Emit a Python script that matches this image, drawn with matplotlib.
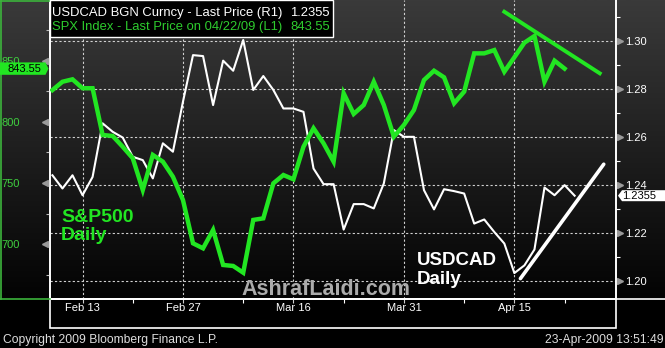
import numpy as np
import pandas as pd
import matplotlib
matplotlib.use("Agg")
import matplotlib.pyplot as plt
from matplotlib.colors import LinearSegmentedColormap
from matplotlib.patches import Rectangle, Polygon
from matplotlib.lines import Line2D
from matplotlib import transforms

plt.rcParams['font.family'] = ['Liberation Sans', 'DejaVu Sans']

# weekday axis (the terminal carries holidays forward)
dates = pd.bdate_range("2009-02-10", "2009-04-23")

usdcad = [1.2440, 1.2385, 1.2440, 1.2357, 1.2433, 1.2656, 1.2621, 1.2597, 1.2517, 1.2503,
          1.2427, 1.2573, 1.2538, 1.2746, 1.2940, 1.2936, 1.2732, 1.2917, 1.2875, 1.3003,
          1.2795, 1.2853, 1.2795, 1.2718, 1.2718, 1.2704, 1.2468, 1.2403, 1.2403, 1.2214,
          1.2320, 1.2320, 1.2302, 1.2406, 1.2628, 1.2600, 1.2600, 1.2378, 1.2298, 1.2382,
          1.2374, 1.2364, 1.2239, 1.2256, 1.2204, 1.2156, 1.2033, 1.2065, 1.2131, 1.2389,
          1.2357, 1.2399, 1.2355]

spx = [826.0, 832.8, 834.8, 827.5, 827.5, 789.3, 788.5, 779.7, 770.3, 744.4,
       773.0, 767.5, 755.2, 736.2, 700.8, 696.7, 711.7, 683.1, 682.3, 676.8,
       719.9, 721.2, 749.8, 756.6, 753.1, 779.7, 794.8, 782.5, 767.5, 823.4,
       806.5, 813.8, 832.8, 813.8, 787.9, 797.5, 809.7, 834.2, 841.8, 836.4,
       815.2, 824.7, 856.0, 856.0, 858.7, 841.0, 852.8, 864.7, 870.2, 832.8,
       850.0, 843.55]

tick_dates = ["2009-02-13", "2009-02-27", "2009-03-16", "2009-03-31", "2009-04-15"]
tick_labels = ["Feb 13", "Feb 27", "Mar 16", "Mar 31", "Apr 15"]
minor_dates = ["2009-02-20", "2009-03-09", "2009-03-23", "2009-04-08", "2009-04-22"]

spx_ticks = [700, 750, 800, 850]
spx_minor = [675, 725, 775, 825, 875]
cad_ticks = [1.20, 1.22, 1.24, 1.26, 1.28, 1.30]
cad_minor = [1.21, 1.23, 1.25, 1.27, 1.29, 1.31]

# hand drawn trend lines, x in weekday index
spx_trend_x = [45.0, 54.5]
spx_trend_y = [890.0, 839.7]
cad_trend_x = [46.6, 54.9]
cad_trend_y = [1.2010, 1.2486]

GREEN = '#22e622'
W, H = 665, 348


def fx(px):
    return px / W


def fy(py):
    return 1 - py / H


fig = plt.figure(figsize=(W / 100, H / 100), dpi=100, facecolor='black')

# background gradient behind plot + side panels
bg = fig.add_axes([0, fy(299), 1, 299 / H], zorder=-1)
grad = np.linspace(0, 1, 256).reshape(-1, 1)
bg.imshow(grad, aspect='auto', extent=(0, 1, 0, 1), origin='upper',
          cmap=LinearSegmentedColormap.from_list('bg', ['#3a3a3a', '#030303']))
bg.axis('off')

rect = [fx(50), fy(299), 566 / W, 299 / H]
ax_l = fig.add_axes(rect)
ax_r = ax_l.twinx()
ax_l.set_zorder(2)
ax_r.set_zorder(1)
ax_l.patch.set_visible(False)
ax_r.patch.set_visible(False)

x_cad = np.arange(len(usdcad))
x_spx = np.arange(len(spx))
ax_l.set_xlim(-0.24, 56.12)
ax_l.set_ylim(655.3, 899.6)
ax_r.set_ylim(1.19251, 1.31694)

ax_r.plot(x_cad, usdcad, color='white', lw=1.5, zorder=3)
ax_r.plot(cad_trend_x, cad_trend_y, color='white', lw=2.6, zorder=3, solid_capstyle='round')
ax_l.plot(x_spx, spx, color=GREEN, lw=3.2, zorder=3, solid_joinstyle='miter')
ax_l.plot(spx_trend_x, spx_trend_y, color=GREEN, lw=2.8, zorder=3)

# grid (follows right axis + labelled dates)
tick_pos = [dates.get_loc(pd.Timestamp(d)) for d in tick_dates]
minor_pos = [dates.get_loc(pd.Timestamp(d)) for d in minor_dates]
for v in cad_ticks:
    ax_r.axhline(v, color='#d0d0d0', lw=0.8, ls=(0, (2, 2)), zorder=1)
for p in tick_pos:
    ax_r.axvline(p, color='#d0d0d0', lw=0.8, ls=(0, (2, 2)), zorder=1)

# x axis
ax_l.set_xticks(tick_pos, tick_labels)
ax_l.set_xticks(minor_pos, minor=True)
ax_l.tick_params(axis='x', which='major', length=3, width=0.8, color='#cccccc',
                 labelcolor='white', labelsize=8, pad=0)
ax_l.tick_params(axis='x', which='minor', length=3, width=0.8, color='white')

# left axis
ax_l.set_yticks(spx_ticks, [str(v) for v in spx_ticks])
ax_l.set_yticks(spx_minor, minor=True)
ax_l.tick_params(axis='y', which='major', length=0, pad=21.6, labelsize=8, labelcolor='#3fcf3f')
ax_l.tick_params(axis='y', which='minor', length=3, width=0.8, color='#bbbbbb')

# right axis
ax_r.set_yticks(cad_ticks, [f"{v:.2f}" for v in cad_ticks])
ax_r.set_yticks(cad_minor, minor=True)
ax_r.tick_params(axis='y', which='major', length=0, pad=6.5, labelsize=8, labelcolor='white')
ax_r.tick_params(axis='y', which='minor', length=3, width=0.8, color='white')

for a in (ax_l, ax_r):
    a.spines['top'].set_visible(False)
    for s in ('left', 'right', 'bottom'):
        a.spines[s].set_color('white')
        a.spines[s].set_linewidth(1.2)

# grey tick wedges
ax_l.plot([-0.009] * len(spx_ticks), spx_ticks, ls='none', marker='<', ms=5,
          color='#9a9a9a', transform=ax_l.get_yaxis_transform(), clip_on=False, zorder=4)
ax_r.plot([1.007] * len(cad_ticks), cad_ticks, ls='none', marker='>', ms=5,
          color='#9a9a9a', transform=ax_r.get_yaxis_transform(), clip_on=False, zorder=4)

# frames outside the plot
fig.add_artist(Rectangle((fx(50), fy(328)), 566 / W, 29 / H, transform=fig.transFigure,
                         fc='none', ec='white', lw=1.2, zorder=3))
fig.add_artist(Line2D([fx(616), 1], [fy(299), fy(299)], transform=fig.transFigure,
                      color='white', lw=1.2, zorder=3))
fig.add_artist(Line2D([fx(1), fx(1)], [fy(0), fy(298.5)], transform=fig.transFigure,
                      color='#3cb43c', lw=1.2, zorder=3))
fig.add_artist(Line2D([0, fx(50)], [fy(298.5), fy(298.5)], transform=fig.transFigure,
                      color='#3cb43c', lw=1.2, zorder=3))
fig.add_artist(Line2D([0, fx(50)], [fy(0.5), fy(0.5)], transform=fig.transFigure,
                      color='#3cb43c', lw=1.2, zorder=3))

# legend box
fig.add_artist(Rectangle((fx(50), fy(37)), 283 / W, 37 / H, transform=fig.transFigure,
                         fc='black', ec='white', lw=1, zorder=5))
fig.text(fx(52), fy(16), "USDCAD BGN Curncy - Last Price (R1)", color='white',
         fontsize=9.4, va='baseline', zorder=6)
fig.text(fx(330), fy(16), f"{usdcad[-1]:.4f}", color='white', fontsize=9.4,
         ha='right', va='baseline', zorder=6)
fig.text(fx(52), fy(30), "SPX Index - Last Price on 04/22/09 (L1)", color='#2ecc2e',
         fontsize=9.4, va='baseline', zorder=6)
fig.text(fx(330), fy(30), f"{spx[-1]:.2f}", color='#2ecc2e', fontsize=9.4,
         ha='right', va='baseline', zorder=6)

# last price tags
inv = fig.transFigure.inverted()
yl = inv.transform(ax_l.transData.transform((0, spx[-1])))[1]
yr = inv.transform(ax_r.transData.transform((0, usdcad[-1])))[1]
hl, hr = 6.2 / H, 5.5 / H
fig.add_artist(Polygon([(0, yl - hl), (fx(45.5), yl - hl), (fx(48.5), yl),
                        (fx(45.5), yl + hl), (0, yl + hl)], closed=True,
                       transform=fig.transFigure, fc=GREEN, ec='none', zorder=6))
fig.text(fx(24.5), yl, f"{spx[-1]:.2f}", color='black', fontsize=8, ha='center',
         va='center', zorder=7)
fig.add_artist(Polygon([(fx(618), yr), (fx(622), yr - hr), (1, yr - hr), (1, yr + hr),
                        (fx(622), yr + hr)], closed=True,
                       transform=fig.transFigure, fc='white', ec='none', zorder=6))
fig.text(fx(639), yr, f"{usdcad[-1]:.4f}", color='black', fontsize=8, ha='center',
         va='center', zorder=7)

# annotations
fig.text(fx(61), fy(221.7), "S&P500", color=GREEN, fontsize=14, fontweight='bold',
         va='baseline', zorder=6)
fig.text(fx(61), fy(240), "Daily", color=GREEN, fontsize=14, fontweight='bold',
         va='baseline', zorder=6)
fig.text(fx(417), fy(265), "USDCAD", color='white', fontsize=13.5, fontweight='bold',
         va='baseline', zorder=6)
fig.text(fx(417), fy(284.5), "Daily", color='white', fontsize=13.5, fontweight='bold',
         va='baseline', zorder=6)
fig.text(fx(241.7), fy(295), "AshrafLaidi.com", color='#ababab', fontsize=15.5,
         fontweight='bold', va='baseline', zorder=6)

fig.text(fx(2.7), fy(342.5), "Copyright 2009 Bloomberg Finance L.P.", color='#dddddd',
         fontsize=8.7, va='baseline')
fig.text(fx(663.3), fy(342.5), "23-Apr-2009 13:51:49", color='#dddddd',
         fontsize=8.7, ha='right', va='baseline')

fig.savefig("out.png", dpi=100, facecolor='black')
